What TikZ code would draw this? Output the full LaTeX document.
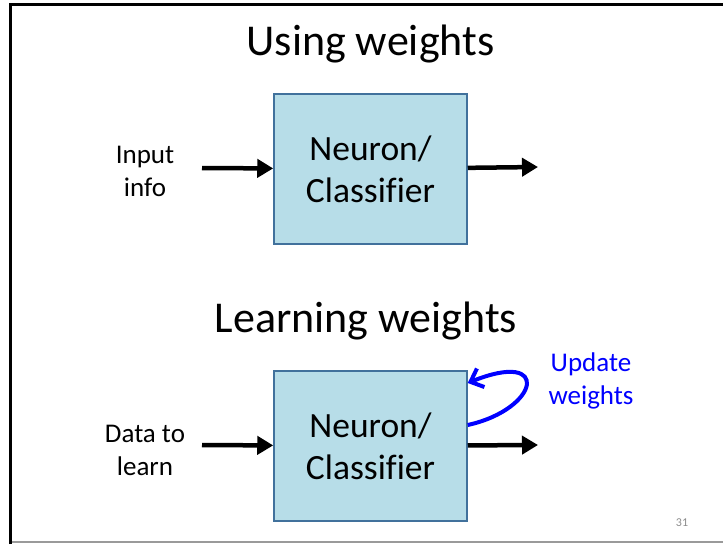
\documentclass[tikz,border=0pt]{standalone}
\usepackage{fontspec}
\setmainfont[Ligatures=NoCommon]{Carlito}
\usetikzlibrary{arrows.meta, positioning}
\definecolor{boxfill}{HTML}{B7DDE8}
\definecolor{boxedge}{HTML}{41719C}
\definecolor{pagegray}{HTML}{8C8C8C}
\definecolor{framegray}{HTML}{9A9A9A}
\tikzset{
  clsbox/.style={draw=boxedge, line width=1.5pt, fill=boxfill,
    minimum width=193pt, minimum height=150pt, align=center,
    font=\fontsize{35.5}{42}\selectfont},
  heading/.style={anchor=base, font=\fontsize{44}{52}\selectfont},
  sidelabel/.style={align=center, font=\fontsize{27}{33}\selectfont},
  flow/.style={-{Triangle[length=16pt,width=18pt]}, line width=4.5pt},
  feedback/.style={-{Straight Barb[length=11pt,width=20pt]}, line width=4pt, blue}
}

\begin{document}
\begin{tikzpicture}[x=1pt, y=-1pt]
    \useasboundingbox (0,0) rectangle (723,544);
    % slide frame
    \draw[line width=3.5pt] (10.5,544) -- (10.5,4.5) -- (723,4.5);
    \draw[framegray, line width=1.5pt] (12,542) -- (723,542);

    % using weights
    \node[heading] (use) at (370.5,55) {Using weights};
    \node[clsbox] (box1) at (370.5,169) {Neuron/\\Classifier};
    \coordinate (in1) at (202,168);
    \coordinate (out1) at (538,167);
    \node[sidelabel] (info) at (145,171) {Input\\info};
    \draw[flow] (in1) -- (box1);
    \draw[flow] (box1) -- (out1);

    % learning weights
    \node[heading] (learn) at (366,332) {Learning weights};
    \node[clsbox] (box2) at (370.5,446) {Neuron/\\Classifier};
    \coordinate (in2) at (202,445);
    \coordinate (out2) at (538,445);
    \node[sidelabel] (data) at (145,450) {Data to\\learn};
    \draw[flow] (in2) -- (box2);
    \draw[flow] (box2) -- (out2);

    \coordinate (loopA) at ([yshift=21pt]box2.east);
    \coordinate (loopB) at ([yshift=63pt]box2.east);
    \draw[feedback] (loopA) .. controls +(72,-16) and +(84,-34) .. (loopB);
    \node[sidelabel, text=blue] (upd) at (591,381) {Update\\weights};

    \node[anchor=base, text=pagegray, font=\fontsize{12}{14}\selectfont] (page) at (682,526) {31};
\end{tikzpicture}
\end{document}
